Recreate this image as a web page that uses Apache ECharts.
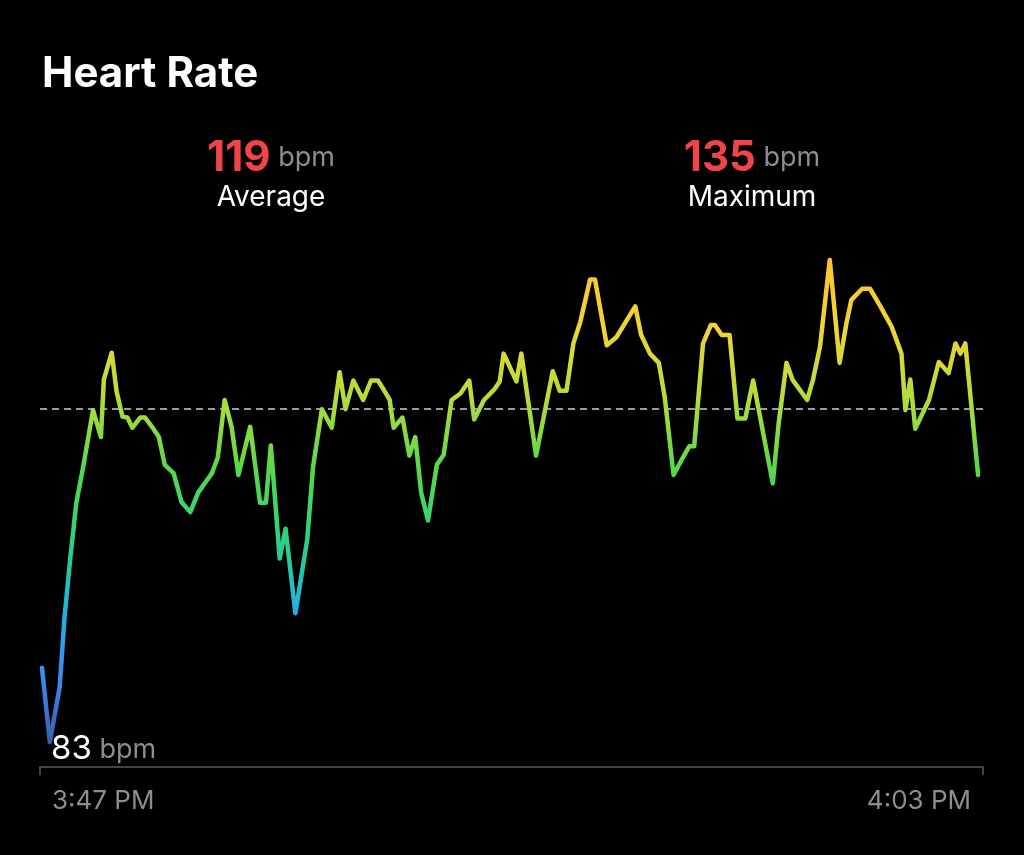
<!DOCTYPE html>
<html>
<head>
<meta charset="utf-8">
<script src="https://cdn.jsdelivr.net/npm/echarts@6/dist/echarts.min.js"></script>
<style>
html,body{margin:0;padding:0;background:#000;}
#chart{width:1024px;height:855px;}
</style>
</head>
<body>
<div id="chart"></div>
<script>
// seconds since 3:47 PM
const timesSec = [2,10,20,25,31,37,44,54,62,65,
73,78,84,89,94,102,107,114,121,127,
136,144,153,161,175,181,188,195,202,214,
224,230,235,244,250,260,272,278,287,297,
305,311,319,329,337,344,350,356,360,369,
376,382,388,395,404,411,419,428,437,442,
452,463,468,472,485,490,505,522,529,536,
543,550,560,565,577,587,606,612,621,630,
636,645,653,661,666,675,683,687,694,702,
710,718,726,735,746,752,760,766,781,787,
794,804,814,821,826,837,845,855,867,877,
881,886,891,905,915,925,932,937,942,955];
const bpmValues = [91.0,83.0,88.9,96.5,103.0,108.8,112.7,118.8,115.9,122.1,
125.0,120.8,118.1,118.0,116.9,118.0,118.0,117.0,115.9,112.9,
112.0,108.9,107.8,109.9,112.0,113.7,119.9,117.0,111.8,117.0,
108.8,108.8,115.0,102.8,106.0,96.9,104.8,112.7,118.9,116.9,
122.9,118.9,122.0,119.9,122.0,122.0,121.0,119.9,116.9,118.0,
113.9,115.9,109.9,106.9,112.9,114.0,119.9,120.6,122.0,117.8,
119.9,121.1,121.9,124.9,121.9,124.9,113.9,123.0,120.9,120.9,
126.0,128.3,132.9,132.9,125.8,126.7,130.0,126.9,124.9,123.9,
120.2,111.8,113.4,114.9,114.9,126.0,128.0,128.0,126.9,126.9,
117.9,117.9,122.0,117.0,110.9,117.4,123.9,122.1,119.9,122.1,
125.6,135.0,123.9,128.2,130.7,131.9,131.9,130.1,127.8,124.9,
118.8,122.1,116.8,119.9,124.0,122.8,126.0,124.9,126.0,111.8];
const timeSpanSec = [0, 960];
const timeLabels = ['3:47 PM', '4:03 PM'];
const averageBpm = 119;
const maximumBpm = 135;
const minimumBpm = 83;

const FONT = 'Inter, "Noto Sans", sans-serif';
const chart = echarts.init(document.getElementById('chart'));
const seriesData = timesSec.map((t, i) => [t, bpmValues[i]]);

chart.setOption({
  backgroundColor: '#000',
  animation: false,
  grid: { left: 40, right: 41, top: 260, bottom: 113, outerBoundsMode: 'none', containLabel: false },
  xAxis: {
    type: 'value',
    min: timeSpanSec[0], max: timeSpanSec[1], interval: timeSpanSec[1] - timeSpanSec[0],
    offset: 25,
    splitLine: { show: false },
    axisLine: { show: true, lineStyle: { color: '#5a5a5e', width: 1.5 } },
    axisTick: { show: true, length: 8, lineStyle: { color: '#5a5a5e', width: 1.5 } },
    axisLabel: {
      margin: 21,
      color: '#8d8d92',
      fontSize: 26,
      fontFamily: FONT,
      alignMinLabel: 'left',
      alignMaxLabel: 'right',
      formatter: v => v === timeSpanSec[0] ? '{a|' + timeLabels[0] + '}' : '{b|' + timeLabels[1] + '}',
      rich: {
        a: { padding: [0, 0, 0, 12], color: '#8d8d92', fontSize: 26, fontFamily: FONT },
        b: { padding: [0, 12, 0, 0], color: '#8d8d92', fontSize: 26, fontFamily: FONT }
      }
    }
  },
  yAxis: {
    type: 'value', min: minimumBpm, max: maximumBpm, show: false
  },
  visualMap: {
    show: false, type: 'continuous', dimension: 1, seriesIndex: 0,
    min: minimumBpm, max: maximumBpm,
    inRange: { color: ['#3a5fae', '#3b8cee', '#20b6d8', '#2fd27a', '#5ad84a', '#b6dc3c', '#eed535', '#ffc52e'] }
  },
  series: [{
    type: 'line',
    data: seriesData,
    showSymbol: false,
    clip: false,
    lineStyle: { width: 4.5, cap: 'round', join: 'round' },
    z: 3,
    markLine: {
      silent: true,
      symbol: 'none',
      label: { show: false },
      lineStyle: { color: '#9a9a9e', type: [7, 5], width: 2 },
      data: [{ yAxis: averageBpm }],
      z: 1
    }
  }],
  graphic: [
    { type: 'text', left: 42, top: 53, style: { text: 'Heart Rate', fill: '#fff', font: 'bold 42px ' + FONT } },
    {
      type: 'text', x: 271, y: 137,
      style: {
        text: '{n|' + averageBpm + '}{u| bpm}', textAlign: 'center',
        rich: {
          n: { fill: '#ef4448', font: 'bold 42px ' + FONT },
          u: { fill: '#8d8d92', font: '27px ' + FONT }
        }
      }
    },
    { type: 'text', x: 271, y: 184, style: { text: 'Average', textAlign: 'center', fill: '#fff', font: '28px ' + FONT } },
    {
      type: 'text', x: 752, y: 137,
      style: {
        text: '{n|' + maximumBpm + '}{u| bpm}', textAlign: 'center',
        rich: {
          n: { fill: '#ef4448', font: 'bold 42px ' + FONT },
          u: { fill: '#8d8d92', font: '27px ' + FONT }
        }
      }
    },
    { type: 'text', x: 752, y: 184, style: { text: 'Maximum', textAlign: 'center', fill: '#fff', font: '28px ' + FONT } },
    {
      type: 'text', x: 51, y: 733,
      style: {
        text: '{n|' + minimumBpm + '}{u| bpm}',
        rich: {
          n: { fill: '#fff', font: '33px ' + FONT },
          u: { fill: '#8d8d92', font: '27px ' + FONT }
        }
      }
    }
  ]
});
</script>
</body>
</html>
